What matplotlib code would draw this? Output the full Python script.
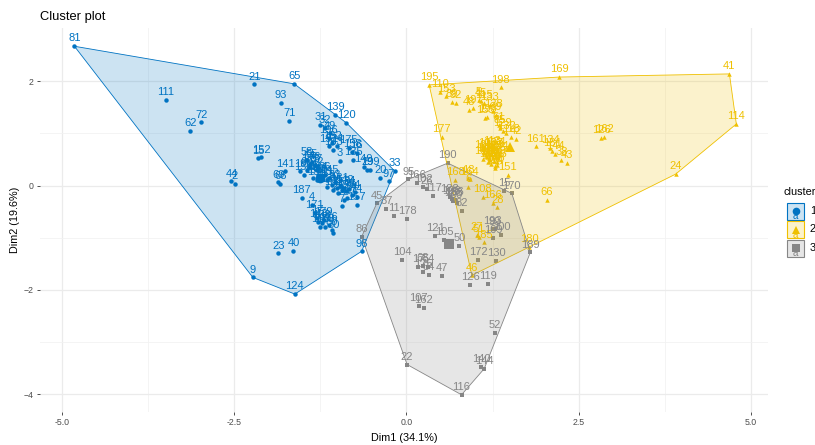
import numpy as np
import matplotlib
matplotlib.use("Agg")
import matplotlib.pyplot as plt
from matplotlib.patches import Polygon, Rectangle

plt.rcParams['font.family'] = ['Liberation Sans', 'DejaVu Sans']

# cluster 1 (blue)
c1_x = [-4.82, -2.21, -1.63, -3.49, -1.82, -2.98, -3.14, -1.70, -1.03, -0.87,
        -1.25, -1.18, -1.11, -2.15, -2.11, -2.54, -2.49, -1.86, -1.83, -1.76,
        -1.54, -1.52, -1.37, -0.17, -0.38, -0.26, -0.65, -1.86, -1.64, -2.23,
        -1.62, -1.13, -1.08, -1.01, -1.06, -1.13, -0.97, -0.84, -0.79, -0.72,
        -0.77, -0.62, -0.57, -0.53, -1.45, -1.37, -1.40, -1.30, -1.49, -1.45,
        -1.40, -1.33, -1.30, -1.28, -1.35, -1.30, -1.23, -1.18, -1.16, -1.12,
        -1.08, -1.04, -1.01, -0.97, -0.94, -0.90, -0.87, -0.83, -0.79, -0.75,
        -0.72, -1.16, -1.06, -0.99, -0.91, -0.86, -0.94, -0.72, -1.33, -1.30,
        -1.28, -1.23, -1.18, -1.13, -1.08, -1.06, -1.25, -1.20]
c1_y = [2.67, 1.94, 1.95, 1.64, 1.59, 1.21, 1.05, 1.24, 1.35, 1.20,
        1.16, 1.10, 1.00, 0.52, 0.54, 0.08, 0.03, 0.06, 0.03, 0.27,
        0.27, -0.24, -0.37, 0.28, 0.14, 0.08, -1.26, -1.30, -1.25, -1.76,
        -2.08, 0.91, 0.81, 0.75, 0.68, 0.75, 0.47, 0.72, 0.65, 0.62,
        0.49, 0.36, 0.30, 0.30, 0.49, 0.46, 0.42, 0.36, 0.20, 0.30,
        0.36, 0.40, 0.30, 0.20, 0.14, 0.11, 0.14, 0.20, 0.11, 0.14,
        0.01, 0.06, -0.05, 0.00, -0.08, -0.04, -0.11, -0.07, -0.18, -0.13,
        -0.21, -0.02, -0.08, -0.15, -0.27, -0.24, -0.40, -0.37, -0.53, -0.62,
        -0.69, -0.72, -0.79, -0.76, -0.85, -0.91, -0.79, -0.66]
c1_lab = [81, 21, 65, 111, 93, 72, 62, 71, 139, 120,
          31, 32, 49, 15, 152, 44, 2, 69, 68, 141,
          19, 187, 4, 33, 20, 97, 96, 23, 40, 9,
          124, 196, 182, 14, 163, 192, 3, 175, 158, 16,
          135, 149, 29, 199, 58, 55, 54, 57, 150, 60,
          173, 76, 12, 184, 186, 156, 10, 36, 63, 145,
          8, 53, 35, 131, 159, 142, 147, 84, 34, 64,
          74, 13, 101, 25, 78, 127, 7, 157, 171, 17,
          143, 138, 188, 176, 80, 30, 160, 179]

# cluster 2 (yellow)
c2_x = [0.33, 0.49, 0.58, 0.66, 0.72, 1.37, 2.22, 4.69, 4.79, 3.91,
        2.04, 0.95, 1.78, 0.51, 1.05, 1.08, 1.13, 0.91, 0.97, 1.21,
        1.14, 1.17, 1.26, 1.30, 1.34, 1.36, 1.40, 1.45, 1.52, 1.59,
        1.88, 2.09, 2.12, 2.16, 2.25, 2.33, 2.83, 2.87, 1.12, 1.15,
        1.18, 1.20, 1.22, 1.24, 1.25, 1.27, 1.28, 1.30, 1.32, 1.33,
        1.19, 1.23, 1.29, 1.35, 1.17, 1.26, 1.31, 1.21, 1.11, 1.31,
        1.28, 1.47, 0.71, 0.90, 0.92, 0.90, 1.11, 1.32, 1.25, 1.02,
        1.05, 1.12]
c2_y = [1.93, 1.80, 1.71, 1.60, 1.58, 1.88, 2.08, 2.14, 1.18, 0.22,
        -0.27, -1.72, -1.18, 0.93, 1.64, 1.62, 1.58, 1.45, 1.49, 1.55,
        1.29, 1.31, 1.42, 1.35, 1.16, 1.10, 1.05, 1.00, 0.94, 0.89,
        0.75, 0.72, 0.67, 0.61, 0.49, 0.43, 0.92, 0.93, 0.62, 0.58,
        0.66, 0.52, 0.60, 0.70, 0.55, 0.48, 0.63, 0.57, 0.45, 0.52,
        0.45, 0.42, 0.38, 0.60, 0.55, 0.66, 0.69, 0.49, 0.51, 0.40,
        0.33, 0.21, 0.11, 0.14, 0.12, -0.02, -0.21, -0.42, -0.33, -0.94,
        -0.98, -1.09]
c2_lab = [195, 110, 153, 89, 92, 198, 169, 41, 114, 24,
          66, 46, 180, 177, 5, 45, 115, 48, 197, 133,
          155, 193, 128, 39, 61, 85, 129, 132, 118, 42,
          161, 134, 181, 144, 38, 43, 126, 162, 191, 102,
          103, 106, 112, 113, 117, 122, 123, 125, 136, 137,
          140, 146, 148, 154, 165, 167, 174, 183, 190, 87,
          194, 151, 168, 18, 164, 6, 108, 28, 166, 27,
          51, 185]

# cluster 3 (grey)
c3_x = [0.03, 0.15, 0.24, 0.30, 0.39, 0.60, -0.43, -0.29, -0.18, 0.01,
        -0.65, -0.06, 0.17, 0.24, 0.24, 0.33, 0.51, 0.42, 0.55, 0.77,
        0.18, 0.25, 0.01, 0.80, 1.09, 1.13, 1.28, 1.80, 1.53, 1.42,
        0.93, 1.18, 1.04, 1.30, 1.26, 1.25, 1.28, 1.38, 0.63, 0.66,
        0.68, 0.70, 0.73, 0.81, 0.32]
c3_y = [0.12, 0.05, -0.03, -0.07, -0.20, 0.43, -0.34, -0.45, -0.58, -0.64,
        -0.98, -1.42, -1.56, -1.54, -1.65, -1.71, -1.73, -0.96, -1.04, -1.15,
        -2.30, -2.34, -3.43, -4.01, -3.47, -3.51, -2.82, -1.28, -0.15, -0.10,
        -1.90, -1.88, -1.42, -1.44, -1.01, -0.83, -0.84, -0.94, -0.21, -0.25,
        -0.30, -0.28, -0.33, -0.48, -1.56]
c3_lab = [95, 166, 102, 26, 117, 190, 45, 37, 11, 178,
          86, 104, 17, 68, 175, 34, 47, 121, 105, 50,
          107, 162, 22, 116, 140, 144, 52, 189, 170, 15,
          126, 119, 172, 130, 109, 193, 99, 200, 188, 198,
          183, 186, 90, 82, 54]

# cluster centres
cen_x = [-1.25, 1.50, 0.62]
cen_y = [0.15, 0.74, -1.12]

colors = ['#0073C2', '#EFC000', '#868686']
markers = ['o', '^', 's']
clusters = [(c1_x, c1_y, c1_lab), (c2_x, c2_y, c2_lab), (c3_x, c3_y, c3_lab)]


def hull(px, py):
    # convex hull (monotone chain)
    pts = sorted(set(zip(px, py)))
    def cross(o, a, b):
        return (a[0]-o[0])*(b[1]-o[1]) - (a[1]-o[1])*(b[0]-o[0])
    lower, upper = [], []
    for p in pts:
        while len(lower) >= 2 and cross(lower[-2], lower[-1], p) <= 0:
            lower.pop()
        lower.append(p)
    for p in reversed(pts):
        while len(upper) >= 2 and cross(upper[-2], upper[-1], p) <= 0:
            upper.pop()
        upper.append(p)
    return lower[:-1] + upper[:-1]


fig = plt.figure(figsize=(8.15, 4.45), dpi=100)
ax = fig.add_axes([40/815, 33/445, 728/815, 384/445])

for i, (x, y, lab) in enumerate(clusters):
    ax.plot(x, y, linestyle='none', marker=markers[i], color=colors[i],
            markersize=3.2, markeredgewidth=0, zorder=3)
    ax.plot(cen_x[i], cen_y[i], linestyle='none', marker=markers[i],
            color=colors[i], markersize=7, markeredgewidth=0, zorder=3)

for i, (x, y, lab) in enumerate(clusters):
    h = hull(x, y)
    ax.add_patch(Polygon(h, closed=True, facecolor=colors[i], alpha=0.2,
                         edgecolor='none', zorder=4))
    ax.add_patch(Polygon(h, closed=True, facecolor='none',
                         edgecolor=colors[i], lw=0.6, zorder=4))

for i, (x, y, lab) in enumerate(clusters):
    for xx, yy, ll in zip(x, y, lab):
        ax.annotate(str(ll), (xx, yy), xytext=(0, 2), textcoords='offset points',
                    ha='center', va='bottom', fontsize=8, color=colors[i], zorder=5)

ax.set_xlim(-5.32, 5.25)
ax.set_ylim(-4.34, 3.02)
ax.set_xticks([-5.0, -2.5, 0.0, 2.5, 5.0])
ax.set_xticklabels(['-5.0', '-2.5', '0.0', '2.5', '5.0'])
ax.set_yticks([-4, -2, 0, 2])
ax.set_xticks([-3.75, -1.25, 1.25, 3.75], minor=True)
ax.set_yticks([-3, -1, 1], minor=True)
ax.grid(True, which='major', color='#EBEBEB', lw=0.9, zorder=0)
ax.grid(True, which='minor', color='#F2F2F2', lw=0.6, zorder=0)
ax.set_axisbelow(True)
for s in ax.spines.values():
    s.set_visible(False)
ax.tick_params(which='major', length=2.5, width=0.6, color='#333333',
               labelsize=6.3, labelcolor='#4D4D4D', pad=2)
ax.tick_params(which='minor', length=0)
ax.set_xlabel('Dim1 (34.1%)', fontsize=7.8, labelpad=4)
ax.set_ylabel('Dim2 (19.6%)', fontsize=7.8, labelpad=3)
ax.set_title('Cluster plot', loc='left', fontsize=9.3, pad=6)

# legend drawn in pixel coordinates
lg = fig.add_axes([0, 0, 1, 1], facecolor='none')
lg.set_xlim(0, 815)
lg.set_ylim(445, 0)
lg.axis('off')
lg.text(784, 192, 'cluster', fontsize=7.8, va='center', ha='left', clip_on=False)
key_y = [211, 229.5, 248]
for i in range(3):
    cy = key_y[i]
    lg.add_patch(Rectangle((787, cy - 8.5), 17, 17, facecolor=colors[i], alpha=0.2,
                           edgecolor='none'))
    lg.add_patch(Rectangle((787, cy - 8.5), 17, 17, facecolor='none',
                           edgecolor=colors[i], lw=0.8))
    lg.plot(795.5, cy, marker=markers[i], color=colors[i], markersize=5.5,
            markeredgewidth=0)
    lg.text(795.5, cy + 5, 'a', fontsize=7, color=colors[i], ha='center', va='center')
    lg.text(810, cy, str(i + 1), fontsize=7.8, va='center', ha='left', clip_on=False)

fig.savefig('out.png', dpi=100)
